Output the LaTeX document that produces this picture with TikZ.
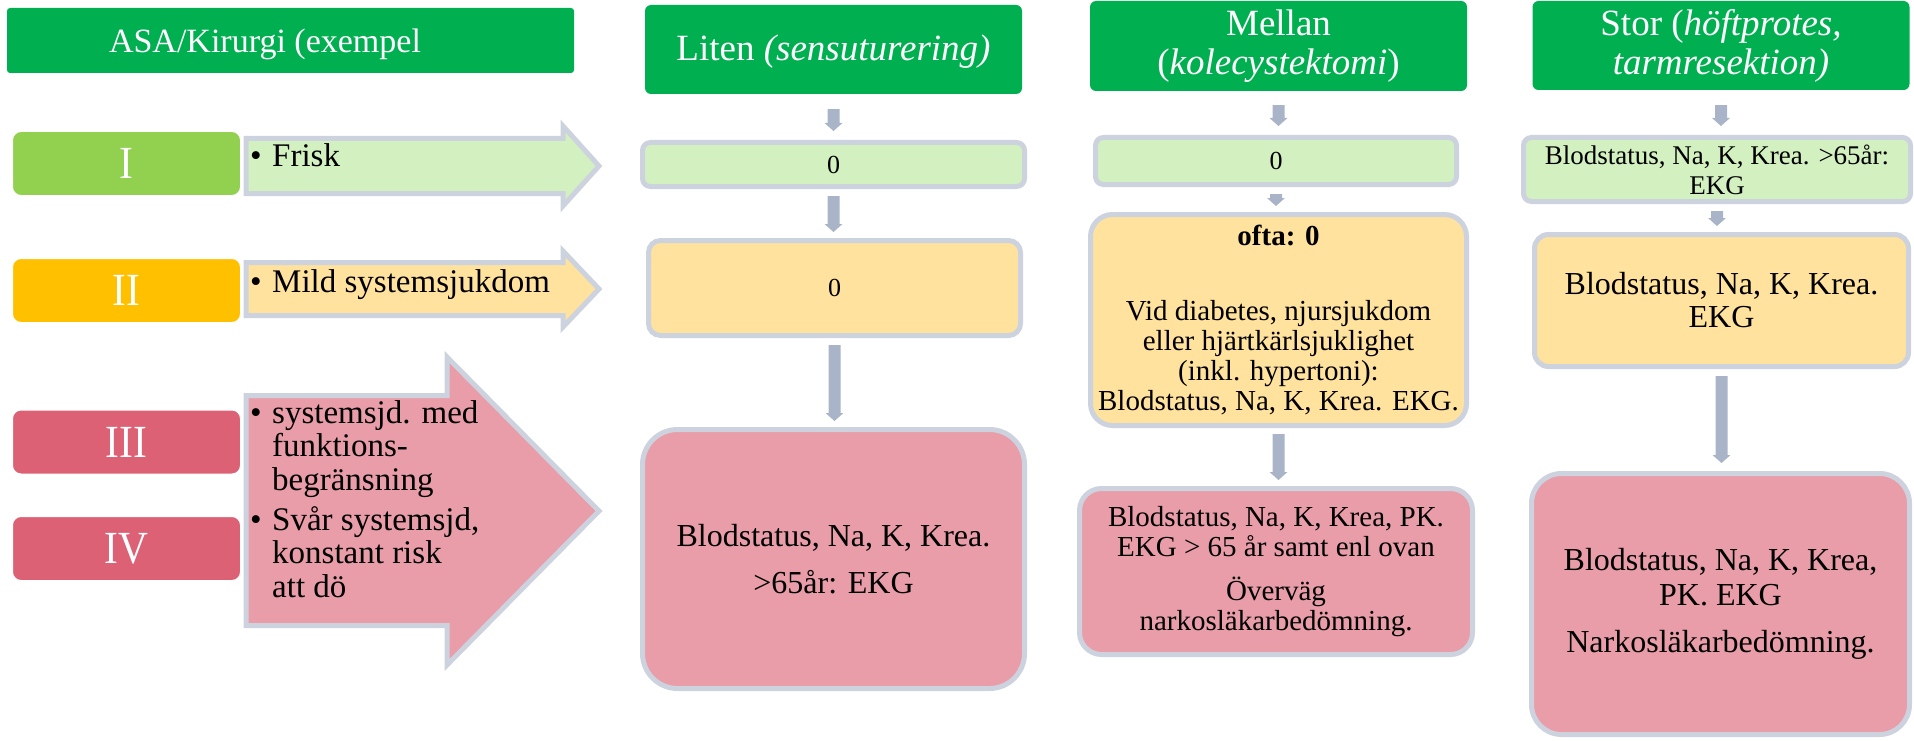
\documentclass[tikz,border=0pt]{standalone}
\usepackage{fontspec}
\setmainfont{Liberation Serif}
\usepackage{graphicx}
\usetikzlibrary{calc}
\definecolor{hdrgreen}{HTML}{00B050}
\definecolor{asaone}{HTML}{92D050}
\definecolor{asatwo}{HTML}{FFC000}
\definecolor{asathree}{HTML}{DD6175}
\definecolor{lgreen}{HTML}{D3F0C0}
\definecolor{lyellow}{HTML}{FFE29D}
\definecolor{lpink}{HTML}{E89DA9}
\definecolor{bordgray}{HTML}{CDD3DE}
\definecolor{arrgray}{HTML}{A9B4C8}
\newcommand\fs[2]{\fontsize{#1}{#2}\selectfont}
\newcommand\downarr[4]{\fill[arrgray] let \p1=(#1.south), \p2=(#2.north) in
  (\x1-6pt,\y1-#3pt) -- (\x1+6pt,\y1-#3pt) -- (\x1+6pt,\y2+#4pt+8pt) -- (\x1+9pt,\y2+#4pt+8pt)
  -- (\x1,\y2+#4pt) -- (\x1-9pt,\y2+#4pt+8pt) -- (\x1-6pt,\y2+#4pt+8pt) -- cycle;}
\newcommand\bul{\makebox[22pt][l]{\textbullet}}
\begin{document}
\begin{tikzpicture}[x=1pt,y=-1pt,
  hdr/.style={fill=hdrgreen, rounded corners=6pt, text=white, inner sep=0pt, align=center,
    font=\fs{37}{39}, minimum width=377pt, minimum height=89pt},
  rbox/.style={fill=#1, draw=bordgray, line width=5pt, inner sep=0pt, align=center},
  asabox/.style={fill=#1, draw=white, line width=2pt, rounded corners=9pt, text=white,
    minimum width=229pt, minimum height=65pt, inner sep=0pt, font=\fs{46}{46}},
  blockarr/.style={draw=bordgray, line width=5pt, line join=miter},
  atext/.style={anchor=base west, inner sep=0pt, font=\fs{33}{33.5}}]
\useasboundingbox (0,0) rectangle (1914,741);

% headers
\node[hdr, rounded corners=3pt, minimum width=567pt, minimum height=65pt, font=\fs{34}{34},
  text height=30pt, text depth=5pt] (asa) at (290.5,40.5)
  {ASA/Kirurgi (exempel\hspace*{51pt}};
\node[hdr, text height=30pt, text depth=7pt] (hl) at (833.5,49.5) {Liten \textit{(sensuturering)}};
\node[hdr, minimum height=90pt] (hm) at (1278.5,46) {Mellan\\(\textit{kolecystektomi})};
\node[hdr] (hs) at (1721,45.5) {Stor (\textit{höftprotes,}\\\textit{tarmresektion)}};

% left block arrows
\draw[blockarr, fill=lgreen] (246,138.5) -- (563,138.5) -- (563,126) -- (599,166)
  -- (563,206) -- (563,193.5) -- (246,193.5) -- cycle;
\draw[blockarr, fill=lyellow] (246,262.5) -- (563,262.5) -- (563,251) -- (599,289)
  -- (563,327) -- (563,315.5) -- (246,315.5) -- cycle;
\draw[blockarr, fill=lpink] (246,395.5) -- (447,395.5) -- (447,357) -- (599,511)
  -- (447,665) -- (447,625.5) -- (246,625.5) -- cycle;

% ASA boxes
\node[asabox=asaone] (a1) at (126.5,163.5) {\scalebox{0.9}[1]{I}};
\node[asabox=asatwo] (a2) at (126.5,290.5) {\scalebox{0.9}[1]{II}};
\node[asabox=asathree] (a3) at (126.5,442) {\scalebox{0.9}[1]{III}};
\node[asabox=asathree] (a4) at (126.5,548.5) {\scalebox{0.9}[1]{IV}};

% arrow texts
\node[atext] (t1) at (250,167) {\bul Frisk};
\node[atext] (t2) at (250,292) {\bul Mild systemsjukdom};
\node[atext] (t3) at (250,423) {\begin{tabular}[t]{@{}l@{}l@{}}
  \bul & systemsjd. med\\ & funktions-\\ & begränsning\\[6.5pt]
  \bul & Svår systemsjd,\\ & konstant risk\\ & att dö\end{tabular}};

% Liten column
\node[rbox=lgreen, rounded corners=8pt, minimum width=382pt, minimum height=44pt, font=\fs{26}{28}]
  (lg) at (833.5,164.5) {0};
\node[rbox=lyellow, rounded corners=12pt, minimum width=372pt, minimum height=95pt, font=\fs{26}{28}]
  (ly) at (834.5,288) {0};
\node[rbox=lpink, rounded corners=35pt, minimum width=382pt, minimum height=259pt, font=\fs{32}{47}]
  (lp) at (833.5,559) {Blodstatus, Na, K, Krea.\\>65år: EKG};

% Mellan column
\node[rbox=lgreen, rounded corners=8pt, minimum width=361pt, minimum height=47pt, font=\fs{26}{28}]
  (mg) at (1276,161) {0};
\node[rbox=lyellow, rounded corners=22pt, minimum width=376pt, minimum height=211pt, font=\fs{29}{30}]
  (my) at (1278.5,320) {\textbf{ofta: 0}\\[45pt]Vid diabetes, njursjukdom\\eller hjärtkärlsjuklighet\\(inkl. hypertoni):\\Blodstatus, Na, K, Krea. EKG.};
\node[rbox=lpink, rounded corners=22pt, minimum width=393pt, minimum height=166pt, font=\fs{29}{30}]
  (mp) at (1276,571.5) {Blodstatus, Na, K, Krea, PK.\\EKG > 65 år samt enl ovan\\[14pt]Överväg\\narkosläkarbedömning.};

% Stor column
\node[rbox=lgreen, rounded corners=8pt, minimum width=387pt, minimum height=64pt, font=\fs{27}{30}]
  (sg) at (1717,169.5) {Blodstatus, Na, K, Krea. >65år:\\EKG};
\node[rbox=lyellow, rounded corners=14pt, minimum width=374pt, minimum height=132pt, font=\fs{32}{33}]
  (sy) at (1721.5,300.5) {Blodstatus, Na, K, Krea.\\EKG};
\node[rbox=lpink, rounded corners=30pt, minimum width=378pt, minimum height=261pt, font=\fs{32}{35}]
  (sp) at (1720.5,604) {Blodstatus, Na, K, Krea,\\PK. EKG\\[12pt]Narkosläkarbedömning.};

% down arrows
\downarr{hl}{lg}{15}{9}
\downarr{lg}{ly}{7}{6}
\downarr{ly}{lp}{7}{6}
\downarr{hm}{mg}{14}{9}
\downarr{mg}{my}{7}{6}
\downarr{my}{mp}{6}{6}
\downarr{hs}{sg}{15}{9}
\downarr{sg}{sy}{7}{6}
\downarr{sy}{sp}{7}{8}
\end{tikzpicture}
\end{document}
